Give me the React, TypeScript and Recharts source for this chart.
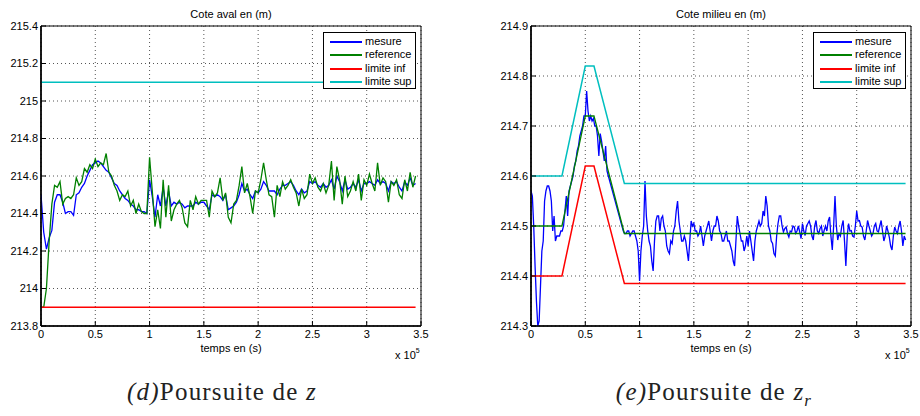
import React from 'react';
import { LineChart, Line, XAxis, YAxis, CartesianGrid, ReferenceArea } from 'recharts';

// temps en unites de 10^5 s
const PAS_AVAL = 0.025;
const PAS_MILIEU = 0.0125;

// (d) cote aval
const mesureAval = [
  214.50, 214.30, 214.21, 214.27, 214.31, 214.46, 214.50, 214.50, 214.46, 214.40,
  214.41, 214.41, 214.39, 214.50, 214.51, 214.54, 214.56, 214.60, 214.63, 214.66,
  214.67, 214.68, 214.67, 214.65, 214.63, 214.62, 214.59, 214.56, 214.55, 214.52,
  214.50, 214.48, 214.47, 214.45, 214.44, 214.42, 214.42, 214.41, 214.41, 214.40,
  214.58, 214.49, 214.38, 214.50, 214.44, 214.54, 214.44, 214.52, 214.44, 214.46,
  214.45, 214.46, 214.45, 214.43, 214.44, 214.44, 214.44, 214.46, 214.45, 214.46,
  214.46, 214.44, 214.42, 214.50, 214.49, 214.50, 214.49, 214.47, 214.50, 214.42,
  214.43, 214.44, 214.46, 214.50, 214.56, 214.52, 214.53, 214.50, 214.48, 214.52,
  214.51, 214.53, 214.57, 214.55, 214.52, 214.52, 214.52, 214.50, 214.53,
  214.55, 214.55, 214.56, 214.57, 214.55, 214.52, 214.50, 214.53, 214.51, 214.52,
  214.57, 214.56, 214.57, 214.55, 214.54, 214.56, 214.54, 214.55, 214.58, 214.53,
  214.60, 214.57, 214.52, 214.58, 214.53, 214.54, 214.56, 214.54, 214.58, 214.52,
  214.56, 214.56, 214.57, 214.56, 214.55, 214.58, 214.56, 214.57, 214.56, 214.52,
  214.57, 214.56, 214.57, 214.54, 214.52, 214.57, 214.55, 214.59, 214.55, 214.56,
];
const referenceAval = [
  213.90, 213.90, 214.00, 214.25, 214.45, 214.55, 214.54, 214.57, 214.45, 214.48,
  214.49, 214.48, 214.50, 214.59, 214.55, 214.57, 214.64, 214.62, 214.66, 214.64,
  214.69, 214.65, 214.67, 214.66, 214.72, 214.62, 214.60, 214.55, 214.52, 214.47,
  214.50, 214.49, 214.52, 214.44, 214.47, 214.40, 214.45, 214.41, 214.40, 214.40,
  214.70, 214.52, 214.33, 214.42, 214.32, 214.58, 214.38, 214.55, 214.36, 214.42,
  214.45, 214.47, 214.43, 214.35, 214.33, 214.47, 214.42, 214.49, 214.45, 214.47,
  214.47, 214.47, 214.38, 214.52, 214.49, 214.51, 214.59, 214.47, 214.51, 214.38,
  214.35, 214.45, 214.47, 214.55, 214.65, 214.51, 214.56, 214.49, 214.40, 214.52,
  214.51, 214.58, 214.67, 214.58, 214.50, 214.49, 214.38, 214.55, 214.49,
  214.57, 214.53, 214.55, 214.58, 214.54, 214.51, 214.44, 214.53, 214.48, 214.50,
  214.61, 214.56, 214.59, 214.54, 214.52, 214.56, 214.51, 214.55, 214.68, 214.47,
  214.65, 214.58, 214.45, 214.60, 214.49, 214.52, 214.57, 214.52, 214.61, 214.47,
  214.58, 214.55, 214.61, 214.56, 214.52, 214.67, 214.55, 214.59, 214.57, 214.46,
  214.57, 214.55, 214.58, 214.50, 214.48, 214.58, 214.52, 214.62, 214.54, 214.60,
];
const tempsLimAval = [0, 3.45];
const limInfAval = [213.9, 213.9];
const limSupAval = [215.1, 215.1];

// (e) cote milieu, 8 echantillons par 0.1
const mesureMilieu = [
  214.57, 214.56, 214.50, 214.42, 214.35, 214.30, 214.31, 214.38,
  214.45, 214.47, 214.55, 214.57, 214.58, 214.58, 214.57, 214.55,
  214.49, 214.52, 214.47, 214.48, 214.48, 214.48, 214.49, 214.49,
  214.50, 214.53, 214.56, 214.52, 214.57, 214.58, 214.59, 214.60,
  214.62, 214.63, 214.65, 214.66, 214.68, 214.69, 214.70, 214.72,
  214.72, 214.77, 214.73, 214.71, 214.72, 214.71, 214.715, 214.70,
  214.70, 214.68, 214.64, 214.685, 214.67, 214.65, 214.63, 214.66,
  214.61, 214.60, 214.59, 214.58, 214.57, 214.56, 214.55, 214.54,
  214.53, 214.52, 214.51, 214.50, 214.49, 214.485, 214.485, 214.49,
  214.49, 214.48, 214.485, 214.49, 214.49, 214.48, 214.47, 214.45,
  214.39, 214.45, 214.48, 214.50, 214.59, 214.52, 214.49, 214.47,
  214.46, 214.43, 214.41, 214.47, 214.51, 214.52, 214.52, 214.49,
  214.515, 214.52, 214.50, 214.49, 214.46, 214.45, 214.445, 214.47,
  214.465, 214.49, 214.50, 214.53, 214.55, 214.51, 214.49, 214.47,
  214.47, 214.48, 214.47, 214.45, 214.43, 214.47, 214.51, 214.50,
  214.505, 214.49, 214.49, 214.48, 214.485, 214.50, 214.48, 214.46,
  214.48, 214.49, 214.50, 214.51, 214.49, 214.47, 214.49, 214.50,
  214.50, 214.52, 214.51, 214.49, 214.485, 214.47, 214.47, 214.48,
  214.49, 214.47, 214.47, 214.46, 214.45, 214.43, 214.42, 214.47,
  214.52, 214.50, 214.485, 214.47, 214.47, 214.45, 214.46, 214.48,
  214.46, 214.49, 214.47, 214.45, 214.43, 214.47, 214.49, 214.50,
  214.51, 214.50, 214.505, 214.53, 214.52, 214.56, 214.54, 214.50,
  214.49, 214.47, 214.465, 214.445, 214.44, 214.48, 214.505, 214.52,
  214.52, 214.50, 214.488, 214.495, 214.498, 214.485, 214.478, 214.49,
  214.488, 214.50, 214.498, 214.485, 214.49, 214.50, 214.488, 214.475,
  214.505, 214.49, 214.481, 214.50, 214.505, 214.51, 214.50, 214.48,
  214.472, 214.50, 214.511, 214.49, 214.485, 214.495, 214.50, 214.48,
  214.491, 214.50, 214.49, 214.51, 214.518, 214.48, 214.452, 214.50,
  214.56, 214.50, 214.472, 214.485, 214.48, 214.50, 214.511, 214.47,
  214.42, 214.48, 214.505, 214.49, 214.491, 214.48, 214.478, 214.50,
  214.53, 214.51, 214.511, 214.50, 214.498, 214.48, 214.472, 214.49,
  214.511, 214.50, 214.49, 214.48, 214.485, 214.50, 214.505, 214.49,
  214.488, 214.50, 214.511, 214.49, 214.47, 214.48, 214.50, 214.49,
  214.478, 214.46, 214.452, 214.48, 214.498, 214.49, 214.485, 214.50,
  214.51, 214.49, 214.46, 214.48, 214.472,
];
const tempsMilieu = [0, 0.285, 0.5, 0.58, 0.86, 3.45];
const referenceMilieu = [214.5, 214.5, 214.72, 214.72, 214.485, 214.485];
const limInfMilieu = [214.4, 214.4, 214.62, 214.62, 214.385, 214.385];
const limSupMilieu = [214.6, 214.6, 214.82, 214.82, 214.585, 214.585];

const ticksX = [0, 0.5, 1, 1.5, 2, 2.5, 3, 3.5];
const ticksAval = [213.8, 214, 214.2, 214.4, 214.6, 214.8, 215, 215.2, 215.4];
const ticksMilieu = [214.3, 214.4, 214.5, 214.6, 214.7, 214.8, 214.9];

const noms = ['mesure', 'reference', 'limite inf', 'limite sup'];
const couleurs = ['#0000ff', '#008000', '#ff0000', '#00bfbf'];
const epaisseurs = [1.3, 1.3, 1.5, 1.5];

const echantillons = (vals: number[], pas: number) => vals.map((v, i) => ({ t: i * pas, v }));
const points = (ts: number[], vals: number[]) => vals.map((v, i) => ({ t: ts[i], v }));

const seriesAval = [
  echantillons(mesureAval, PAS_AVAL),
  echantillons(referenceAval, PAS_AVAL),
  points(tempsLimAval, limInfAval),
  points(tempsLimAval, limSupAval),
];
const seriesMilieu = [
  echantillons(mesureMilieu, PAS_MILIEU),
  points(tempsMilieu, referenceMilieu),
  points(tempsMilieu, limInfMilieu),
  points(tempsMilieu, limSupMilieu),
];

const SANS = '"Liberation Sans", Arial, Helvetica, sans-serif';
const SERIF = '"Liberation Serif", "Times New Roman", serif';
const tickStyle = { fontSize: 11, fill: '#000', fontFamily: SANS };

const fmtY = (v: number) => String(Number(v.toFixed(1)));

interface PanneauProps {
  left: number;
  plotLeft: number;
  title: string;
  domain: [number, number];
  ticks: number[];
  series: { t: number; v: number }[][];
  caption: React.ReactNode;
  captionCenter: number;
}

const Panneau = ({ left, plotLeft, title, domain, ticks, series, caption, captionCenter }: PanneauProps) => {
  const plotW = 380;
  return (
    <div style={{ position: 'absolute', left, top: 0, width: 460, height: 416, fontFamily: SANS }}>
      <div style={{ position: 'absolute', left: plotLeft, top: 7, width: plotW, textAlign: 'center', fontSize: 11, lineHeight: '14px' }}>
        {title}
      </div>
      <div style={{ position: 'absolute', left: 0, top: 0 }}>
        <LineChart width={460} height={350} margin={{ top: 26, right: 460 - plotLeft - plotW, bottom: 0, left: plotLeft - 41 }}>
          <CartesianGrid stroke="#555" strokeDasharray="1 3" strokeWidth={1} />
          <XAxis
            type="number"
            dataKey="t"
            domain={[0, 3.5]}
            ticks={ticksX}
            allowDataOverflow
            height={24}
            tick={tickStyle}
            tickSize={-5}
            tickMargin={9}
            tickLine={{ stroke: '#000' }}
            axisLine={{ stroke: '#000', strokeWidth: 1.6 }}
          />
          <YAxis
            type="number"
            domain={domain}
            ticks={ticks}
            allowDataOverflow
            width={41}
            tick={tickStyle}
            tickFormatter={fmtY}
            tickSize={-5}
            tickMargin={8}
            tickLine={{ stroke: '#000' }}
            axisLine={{ stroke: '#000', strokeWidth: 1.6 }}
          />
          <ReferenceArea x1={0} x2={3.5} y1={domain[0]} y2={domain[1]} fill="none" stroke="#000" strokeWidth={1} ifOverflow="visible" />
          {series.map((d, i) => (
            <Line
              key={noms[i]}
              data={d}
              dataKey="v"
              name={noms[i]}
              type="linear"
              stroke={couleurs[i]}
              strokeWidth={epaisseurs[i]}
              dot={false}
              activeDot={false}
              isAnimationActive={false}
            />
          ))}
        </LineChart>
      </div>
      <div
        style={{
          position: 'absolute',
          left: plotLeft + plotW - 98,
          top: 32,
          width: 93,
          height: 57,
          background: '#fff',
          border: '1px solid #000',
          boxSizing: 'border-box',
        }}
      >
        {noms.map((n, i) => (
          <div key={n} style={{ position: 'absolute', left: 0, top: 2 + i * 13.4, height: 13, width: 92 }}>
            <div style={{ position: 'absolute', left: 6, top: 6, width: 32, height: 2, background: couleurs[i] }} />
            <div style={{ position: 'absolute', left: 41, top: 0, fontSize: 11, lineHeight: '13px', whiteSpace: 'nowrap' }}>{n}</div>
          </div>
        ))}
      </div>
      <div style={{ position: 'absolute', left: plotLeft, top: 341, width: plotW, textAlign: 'center', fontSize: 11, lineHeight: '14px' }}>
        temps en (s)
      </div>
      <div style={{ position: 'absolute', left: plotLeft + plotW - 26, top: 348, fontSize: 11, lineHeight: '14px', whiteSpace: 'nowrap' }}>
        x 10<sup style={{ fontSize: 7, verticalAlign: 6, lineHeight: 0 }}>5</sup>
      </div>
      <div
        style={{
          position: 'absolute',
          left: captionCenter - 150,
          width: 300,
          top: 378,
          textAlign: 'center',
          fontFamily: SERIF,
          fontSize: 25,
          letterSpacing: 1.2,
          lineHeight: '28px',
          color: '#222',
          whiteSpace: 'nowrap',
        }}
      >
        {caption}
      </div>
    </div>
  );
};

export default function App() {
  return (
    <div style={{ position: 'absolute', left: 0, top: 0, width: 920, height: 416, background: '#fff', overflow: 'hidden' }}>
      <Panneau
        left={0}
        plotLeft={41}
        title="Cote aval en (m)"
        domain={[213.8, 215.4]}
        ticks={ticksAval}
        series={seriesAval}
        captionCenter={222}
        caption={
          <span>
            <i>(d)</i>Poursuite de <i>z</i>
          </span>
        }
      />
      <Panneau
        left={460}
        plotLeft={71}
        title="Cote milieu en (m)"
        domain={[214.3, 214.9]}
        ticks={ticksMilieu}
        series={seriesMilieu}
        captionCenter={254}
        caption={
          <span>
            <i>(e)</i>Poursuite de <i>z</i>
            <sub style={{ fontSize: 17, fontStyle: 'italic', lineHeight: 0 }}>r</sub>
          </span>
        }
      />
    </div>
  );
}
